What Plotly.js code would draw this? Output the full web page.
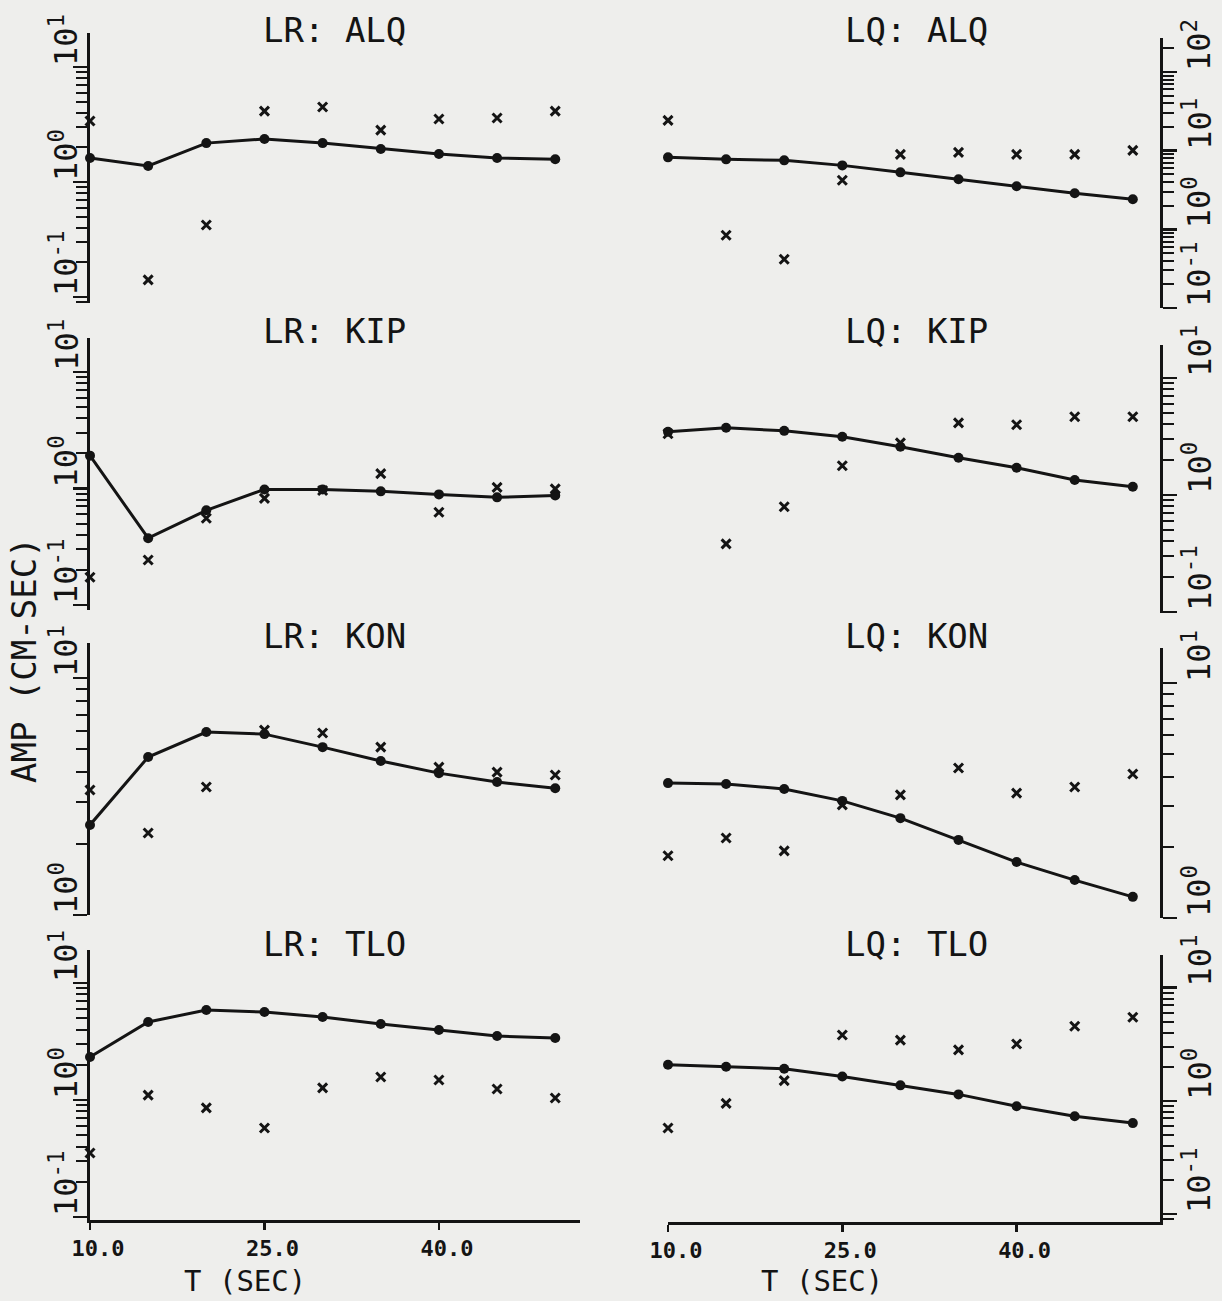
<!DOCTYPE html>
<html>
<head>
<meta charset="utf-8">
<script src="https://cdn.plot.ly/plotly-3.0.1.min.js"></script>
<style>
html,body{margin:0;padding:0;background:#eeeeec;}
#chart{width:1222px;height:1301px;}
</style>
</head>
<body>
<div id="chart"></div>
<script>
// ---- data ----
const T = [10, 15, 20, 25, 30, 35, 40, 45, 50];
const xTickVals = [10, 25, 40];

const lrAlqFit = [1.62, 1.38, 2.18, 2.37, 2.18, 1.94, 1.75, 1.62, 1.58];
const lrAlqObs = [3.39, 0.141, 0.423, 4.14, 4.49, 2.83, 3.53, 3.60, 4.14];
const lqAlqFit = [8.22, 7.75, 7.53, 6.50, 5.30, 4.32, 3.52, 2.87, 2.41];
const lqAlqObs = [24.3, 0.84, 0.416, 4.20, 8.97, 9.50, 8.97, 8.97, 10.1];

const lrKipFit = [1.91, 0.374, 0.649, 0.98, 0.98, 0.943, 0.888, 0.838, 0.871];
const lrKipObs = [0.173, 0.243, 0.554, 0.822, 0.96, 1.34, 0.624, 1.02, 0.99];
const lqKipFit = [3.45, 3.74, 3.52, 3.13, 2.57, 2.07, 1.70, 1.34, 1.17];
const lqKipObs = [3.32, 0.381, 0.79, 1.77, 2.78, 4.12, 3.97, 4.64, 4.64];

const lrKonFit = [2.40, 4.64, 5.92, 5.80, 5.11, 4.47, 3.97, 3.64, 3.43];
const lrKonObs = [3.37, 2.22, 3.47, 6.03, 5.86, 5.11, 4.21, 4.01, 3.90];
const lqKonFit = [3.75, 3.72, 3.54, 3.15, 2.66, 2.15, 1.73, 1.45, 1.23];
const lqKonObs = [1.84, 2.19, 1.93, 3.03, 3.34, 4.35, 3.40, 3.61, 4.10];

const lrTloFit = [2.33, 4.64, 5.88, 5.65, 5.12, 4.46, 3.97, 3.52, 3.39];
const lrTloObs = [0.352, 1.10, 0.855, 0.576, 1.27, 1.57, 1.48, 1.24, 1.04];
const lqTloFit = [2.08, 2.00, 1.92, 1.64, 1.37, 1.14, 0.895, 0.732, 0.636];
const lqTloObs = [0.575, 0.95, 1.51, 3.81, 3.44, 2.82, 3.18, 4.56, 5.47];

const panelTitles = ['LR: ALQ', 'LQ: ALQ', 'LR: KIP', 'LQ: KIP', 'LR: KON', 'LQ: KON', 'LR: TLO', 'LQ: TLO'];
const fitSeries = [lrAlqFit, lqAlqFit, lrKipFit, lqKipFit, lrKonFit, lqKonFit, lrTloFit, lqTloFit];
const obsSeries = [lrAlqObs, lqAlqObs, lrKipObs, lqKipObs, lrKonObs, lqKonObs, lrTloObs, lqTloObs];
const decades = [[-1, 0, 1], [-1, 0, 1, 2], [-1, 0, 1], [-1, 0, 1], [0, 1], [0, 1], [-1, 0, 1], [-1, 0, 1]];
const xTitle = 'T (SEC)';
const yTitle = 'AMP (CM-SEC)';

// ---- layout geometry (pixels) ----
const W = 1222, H = 1301;
const geom = [
  {col: 0, top: 33,  bot: 303,  range: [-1.052, 1.296]},
  {col: 1, top: 38,  bot: 308,  range: [-1.0, 2.432]},
  {col: 0, top: 338, bot: 610,  range: [-1.043, 1.29]},
  {col: 1, top: 345, bot: 613,  range: [-1.01, 1.28]},
  {col: 0, top: 643, bot: 915,  range: [0, 1.148]},
  {col: 1, top: 648, bot: 918,  range: [0, 1.149]},
  {col: 0, top: 950, bot: 1220, range: [-1.026, 1.282]},
  {col: 1, top: 955, bot: 1222, range: [-1.07, 1.288]}
];
const colX = [
  {left: 90, right: 580, range: [10, 52.13], labelX: 86, labelAnchor: 'right'},
  {left: 668, right: 1160, range: [10, 52.34], labelX: 1175, labelAnchor: 'left'}
];
const titleY = [30, 30, 331, 331, 636, 636, 944, 944];
const titleX = [334, 916];

const INK = '#141414';
const FONT = 'DejaVu Sans Mono';

const traces = [];
const layout = {
  width: W, height: H,
  margin: {l: 0, r: 0, t: 0, b: 0},
  paper_bgcolor: '#eeeeec',
  plot_bgcolor: '#eeeeec',
  showlegend: false,
  annotations: []
};

for (let i = 0; i < 8; i++) {
  const n = i + 1;
  const xs = n === 1 ? 'x' : 'x' + n;
  const ys = n === 1 ? 'y' : 'y' + n;
  const g = geom[i];
  const c = colX[g.col];

  traces.push({
    x: T, y: fitSeries[i], xaxis: xs, yaxis: ys,
    mode: 'lines+markers', type: 'scatter', cliponaxis: false,
    line: {color: INK, width: 3},
    marker: {symbol: 'circle', size: 10, color: INK}
  });
  traces.push({
    x: T, y: obsSeries[i], xaxis: xs, yaxis: ys,
    mode: 'markers', type: 'scatter', cliponaxis: false,
    marker: {symbol: 'x-thin', size: 9, line: {width: 3, color: INK}, color: INK}
  });

  const bottomRow = (i >= 6);
  layout['xaxis' + (n === 1 ? '' : n)] = {
    domain: [c.left / W, c.right / W],
    range: c.range,
    anchor: ys,
    visible: bottomRow,
    showgrid: false, zeroline: false,
    showline: bottomRow, linewidth: 3, linecolor: INK,
    ticks: bottomRow ? 'outside' : '', ticklen: 7, tickwidth: 2.5, tickcolor: INK,
    tickmode: 'array', tickvals: xTickVals,
    ticktext: xTickVals.map(v => v.toFixed(1)),
    ticklabelshift: 8,
    tickfont: {family: FONT, size: 22, color: INK, weight: 'bold'}
  };

  const dec = decades[i];
  const majors = dec.map(d => Math.pow(10, d));
  const minors = [];
  for (let d = Math.floor(g.range[0]); d <= Math.ceil(g.range[1]); d++) {
    for (let k = 2; k <= 9; k++) {
      const v = k * Math.pow(10, d);
      const lv = Math.log10(v);
      if (lv >= g.range[0] && lv <= g.range[1]) minors.push(v);
    }
  }
  layout['yaxis' + (n === 1 ? '' : n)] = {
    type: 'log',
    domain: [1 - g.bot / H, 1 - g.top / H],
    range: g.range,
    anchor: xs,
    side: g.col === 0 ? 'left' : 'right',
    showgrid: false, zeroline: false,
    showline: true, linewidth: 3, linecolor: INK,
    ticks: 'outside', ticklen: 14, tickwidth: 2.5, tickcolor: INK,
    tickmode: 'array', tickvals: majors, showticklabels: false,
    minor: {tickmode: 'array', tickvals: minors, ticks: 'outside', ticklen: 11, tickwidth: 2, tickcolor: INK, showgrid: false}
  };

  // rotated decade labels, starting at their tick and reading upward
  dec.forEach(d => {
    layout.annotations.push({
      text: '10<sup>' + d + '</sup>', xref: 'paper', yref: ys,
      x: c.labelX / W, y: d, xanchor: c.labelAnchor, yanchor: 'bottom',
      textangle: -90, showarrow: false, borderpad: 0,
      font: {family: FONT, size: 32, color: INK}
    });
  });

  layout.annotations.push({
    text: panelTitles[i], xref: 'paper', yref: 'paper',
    x: titleX[g.col] / W, y: 1 - titleY[i] / H,
    xanchor: 'center', yanchor: 'middle', showarrow: false,
    font: {family: FONT, size: 34, color: INK}
  });
}

[245, 822].forEach(cx => {
  layout.annotations.push({
    text: xTitle, xref: 'paper', yref: 'paper',
    x: cx / W, y: 1 - 1281 / H, xanchor: 'center', yanchor: 'middle',
    showarrow: false, font: {family: FONT, size: 29, color: INK}
  });
});
layout.annotations.push({
  text: yTitle, xref: 'paper', yref: 'paper',
  x: 24 / W, y: 1 - 660 / H, xanchor: 'center', yanchor: 'middle',
  textangle: -90, showarrow: false, font: {family: FONT, size: 34, color: INK}
});

Plotly.newPlot('chart', traces, layout, {staticPlot: true, displayModeBar: false});
</script>
</body>
</html>
